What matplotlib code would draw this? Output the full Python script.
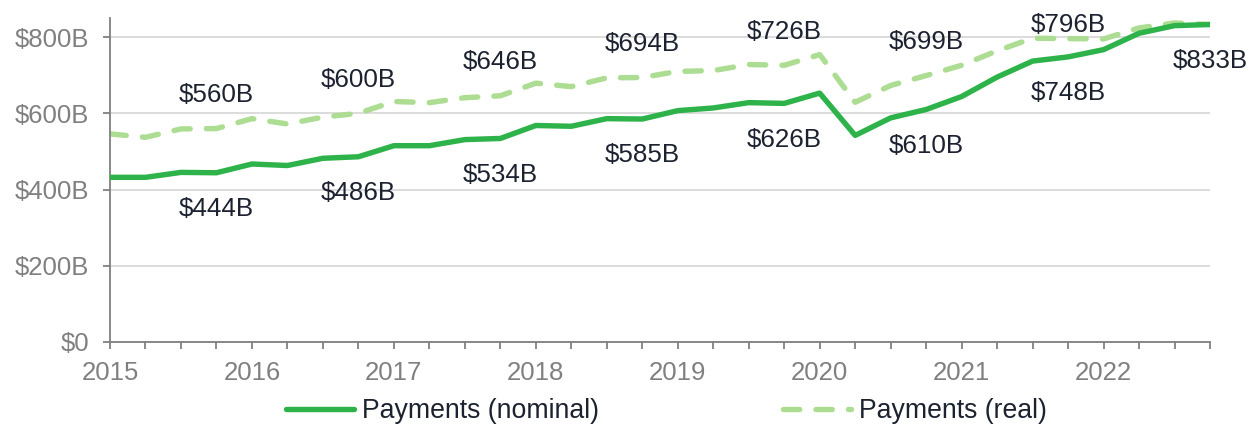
import numpy as np
import matplotlib.pyplot as plt

plt.rcParams['font.family'] = ['Liberation Sans', 'DejaVu Sans']

# quarterly data, 2015 Q1 .. 2022 Q4 ($ billions)
quarters = np.arange(32)
nominal = [432, 432, 445, 444, 467, 463, 482, 486,
           515, 515, 531, 534, 568, 566, 586, 585,
           607, 614, 628, 626, 653, 542, 588, 610,
           644, 695, 737, 748, 767, 810, 830, 833]
real = [546, 537, 559, 560, 586, 572, 590, 600,
        631, 628, 641, 646, 679, 670, 693, 694,
        710, 712, 728, 726, 754, 629, 673, 699,
        726, 764, 797, 796, 795, 824, 837, 833]
years = ['2015', '2016', '2017', '2018', '2019', '2020', '2021', '2022']
y_ticks = [0, 200, 400, 600, 800]
y_labels = ['$0', '$200B', '$400B', '$600B', '$800B']

# which points get a value label (Q4 of each year)
nominal_label_idx = [3, 7, 11, 15, 19, 23, 27, 31]
real_label_idx = [3, 7, 11, 15, 19, 23, 27]

GREEN = '#2db34a'
LIGHT = '#acdd92'
GREY = '#808080'
TEXT = '#1c2230'

fig = plt.figure(figsize=(12.53, 4.26), dpi=100)
ax = fig.add_axes([0.0878, 0.1972, 0.8779, 0.7605])

ax.plot(quarters, nominal, color=GREEN, lw=3.9, solid_capstyle='round',
        label='Payments (nominal)', zorder=3)
ax.plot(quarters, real, color=LIGHT, lw=3.9, linestyle=(0, (3, 3)),
        dash_capstyle='round', label='Payments (real)', zorder=2)

for i in nominal_label_idx:
    ax.annotate(f'${nominal[i]}B', (quarters[i], nominal[i]), xytext=(0, -26),
                textcoords='offset points', ha='center', va='center',
                fontsize=18.7, color=TEXT)
for i in real_label_idx:
    dy = 24 if real[i] < 780 else 10
    ax.annotate(f'${real[i]}B', (quarters[i], real[i]), xytext=(0, dy),
                textcoords='offset points', ha='center', va='center',
                fontsize=18.7, color=TEXT)

ax.set_xlim(0, 31)
ax.set_ylim(0, 850)
ax.set_xticks(quarters, minor=True)
ax.set_xticks(quarters[::4])
ax.set_xticklabels(years)
ax.set_yticks(y_ticks)
ax.set_yticklabels(y_labels)

ax.grid(axis='y', color='#d9d9d9', lw=1.3)
ax.set_axisbelow(True)
for s in ['top', 'right']:
    ax.spines[s].set_visible(False)
for s in ['left', 'bottom']:
    ax.spines[s].set_color(GREY)
    ax.spines[s].set_linewidth(1.3)

ax.tick_params(axis='both', which='both', colors=GREY, labelsize=18.5,
               length=5, width=1.3, labelcolor=GREY)
ax.tick_params(axis='x', which='major', pad=9)
ax.tick_params(axis='y', which='major', pad=10)

ax.legend(loc='center', bbox_to_anchor=(0.5055, -0.213), ncol=2,
          frameon=False, fontsize=19.2, handlelength=2.55, handletextpad=0.3,
          columnspacing=6.9, labelcolor=TEXT, borderpad=0)

fig.savefig('out.png', dpi=100)
